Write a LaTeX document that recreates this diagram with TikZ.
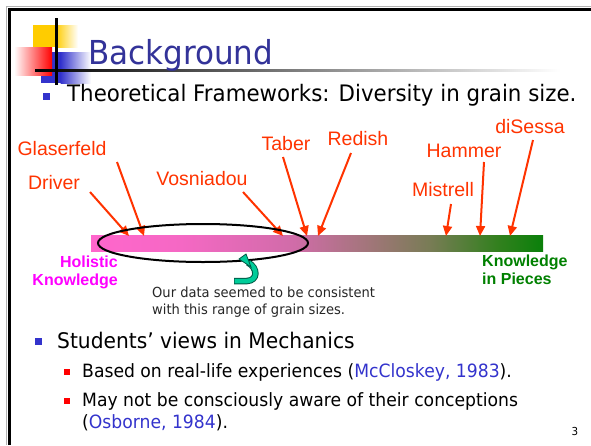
\documentclass[tikz,border=0pt]{standalone}
\usepackage{fontspec}
\usetikzlibrary{arrows.meta}
\newfontfamily\tahoma{DejaVu Sans}[FakeStretch=0.94]
\newfontfamily\arial{Liberation Sans}
\definecolor{titleblue}{RGB}{51,51,153}
\definecolor{bulletblue}{RGB}{51,51,204}
\definecolor{citeblue}{RGB}{51,51,204}
\definecolor{labelred}{RGB}{255,51,0}
\definecolor{holmag}{RGB}{255,0,255}
\definecolor{kipgreen}{RGB}{0,128,0}
\definecolor{arrowteal}{RGB}{0,204,153}
\definecolor{arrowtealdark}{RGB}{0,90,70}
\definecolor{logoyellow}{RGB}{255,204,0}
\definecolor{logored}{RGB}{255,0,0}
\definecolor{barpink}{RGB}{255,102,204}
\definecolor{barA}{RGB}{245,104,196}
\definecolor{barB}{RGB}{208,108,168}
\definecolor{barC}{RGB}{160,118,120}
\definecolor{barD}{RGB}{120,124,85}
\definecolor{barE}{RGB}{50,128,30}
\definecolor{bargreen}{RGB}{10,128,10}
\pgfdeclarehorizontalshading{grainbar}{100bp}{color(0bp)=(barpink); color(25bp)=(barpink);
  color(35bp)=(barA); color(47.5bp)=(barB); color(56bp)=(barC); color(62.5bp)=(barD);
  color(70bp)=(barE); color(75bp)=(bargreen); color(100bp)=(bargreen)}
\tikzset{
  lbl/.style={font=\arial\fontsize{19.5}{22}\selectfont,text=labelred,anchor=base,inner sep=0pt},
  ptr/.style={labelred,line width=2pt,-{Triangle[length=10pt,width=9pt]}},
  bodytext/.style={font=\tahoma\fontsize{22.5}{27}\selectfont,anchor=base west,inner sep=0pt},
  subtext/.style={font=\tahoma\fontsize{18.3}{22}\selectfont,anchor=base west,inner sep=0pt},
  notetext/.style={font=\tahoma\fontsize{13.9}{17}\selectfont,text=black!85,anchor=base west,inner sep=0pt},
  endlabel/.style={font=\arial\bfseries\fontsize{16}{18}\selectfont,inner sep=0pt},
}

\begin{document}
\begin{tikzpicture}[x=1pt,y=-1pt]
  \useasboundingbox (0,0) rectangle (591,445);
  % slide frame
  \draw[gray!60,line width=1.5pt] (6.5,445) -- (6.5,6.5) -- (591,6.5);
  \draw[line width=3pt] (9.5,445) -- (9.5,9.5) -- (591,9.5);
  % logo
  \fill[logoyellow] (33,25) rectangle (56,47);
  \shade[left color=logoyellow,right color=white] (55.5,25) rectangle (78,47);
  \fill[bulletblue] (41,52) rectangle (61,83);
  \shade[left color=bulletblue,right color=white] (60.5,52) rectangle (91,83);
  \shade[left color=white,right color=logored] (14,47) rectangle (52,75);
  \shade[left color=black,right color=white] (35,69) rectangle (560,71.5);
  \draw[line width=3pt] (56,18) -- (56,85);
  % title and first bullet
  \node[font=\tahoma\fontsize{33}{40}\selectfont,text=titleblue,anchor=base west,inner sep=0pt] (title) at (88,64) {Background};
  \fill[bulletblue] (43,93) rectangle (50,100);
  \node[bodytext,font=\tahoma\fontsize{22.7}{27}\selectfont] (frame) at (67,101) {Theoretical Frameworks: Diversity in grain size.};
  % grain size bar
  \shade[shading=grainbar] (91,235.5) rectangle (543,251);
  \node[endlabel,text=holmag,anchor=base east] (hol1) at (118,267) {Holistic};
  \node[endlabel,text=holmag,anchor=base east] (hol2) at (118,285) {Knowledge};
  \node[endlabel,text=kipgreen,anchor=base west] (kip1) at (482,266) {Knowledge};
  \node[endlabel,text=kipgreen,anchor=base west] (kip2) at (482,284) {in Pieces};
  % researchers
  \node[lbl] (gla) at (62,155) {Glaserfeld};
  \node[lbl] (drv) at (54,189) {Driver};
  \node[lbl] (vos) at (202,185) {Vosniadou};
  \node[lbl] (tab) at (286,150) {Taber};
  \node[lbl] (red) at (358,145) {Redish};
  \node[lbl] (ham) at (464,157) {Hammer};
  \node[lbl] (dis) at (530,133) {diSessa};
  \node[lbl] (mis) at (443,196) {Mistrell};
  \coordinate (drvTail) at (90,192);  \coordinate (drvHead) at (129,236);
  \coordinate (glaTail) at (117,162); \coordinate (glaHead) at (144,236);
  \coordinate (vosTail) at (243,192); \coordinate (vosHead) at (283,236);
  \coordinate (tabTail) at (283,157); \coordinate (tabHead) at (307,236);
  \coordinate (redTail) at (351,153); \coordinate (redHead) at (318,236);
  \coordinate (misTail) at (451,204); \coordinate (misHead) at (446,236);
  \coordinate (hamTail) at (484,162); \coordinate (hamHead) at (480,236);
  \coordinate (disTail) at (533,140); \coordinate (disHead) at (510,236);
  \draw[ptr] (drvTail) -- (drvHead);
  \draw[ptr] (glaTail) -- (glaHead);
  \draw[ptr] (vosTail) -- (vosHead);
  \draw[ptr] (tabTail) -- (tabHead);
  \draw[ptr] (redTail) -- (redHead);
  \draw[ptr] (misTail) -- (misHead);
  \draw[ptr] (hamTail) -- (hamHead);
  \draw[ptr] (disTail) -- (disHead);
  % our range
  \draw[line width=2pt] (203,243) ellipse [x radius=105,y radius=19];
  \draw[arrowtealdark,line width=6.5pt] (234,281) -- (247,281) .. controls (258,280.5) and (258,268) .. (248,262.5);
  \draw[arrowteal,line width=4.5pt] (234.5,281) -- (247,281) .. controls (258,280.5) and (258,268) .. (248.5,262.8);
  \filldraw[fill=arrowteal,draw=arrowtealdark,line width=0.8pt] (239,259) -- (246,254) -- (251,267) -- cycle;
  \node[notetext] (note1) at (152,297) {Our data seemed to be consistent};
  \node[notetext] (note2) at (152,314) {with this range of grain sizes.};
  % second bullet
  \fill[bulletblue] (35,338) rectangle (42,345);
  \node[bodytext,font=\tahoma\fontsize{21.5}{26}\selectfont] (views) at (57,348) {Students’ views in Mechanics};
  \fill[logored] (64,369) rectangle (70,375);
  \node[subtext] (exp) at (82,377) {Based on real-life experiences (\textcolor{citeblue}{McCloskey, 1983}).};
  \fill[logored] (64,398) rectangle (70,404);
  \node[subtext] (aware) at (82,406) {May not be consciously aware of their conceptions};
  \node[subtext] (aware2) at (82,428) {(\textcolor{citeblue}{Osborne, 1984}).};
  \node[font=\tahoma\fontsize{11}{13}\selectfont,anchor=base,inner sep=0pt] (pg) at (575,435) {3};
\end{tikzpicture}
\end{document}
